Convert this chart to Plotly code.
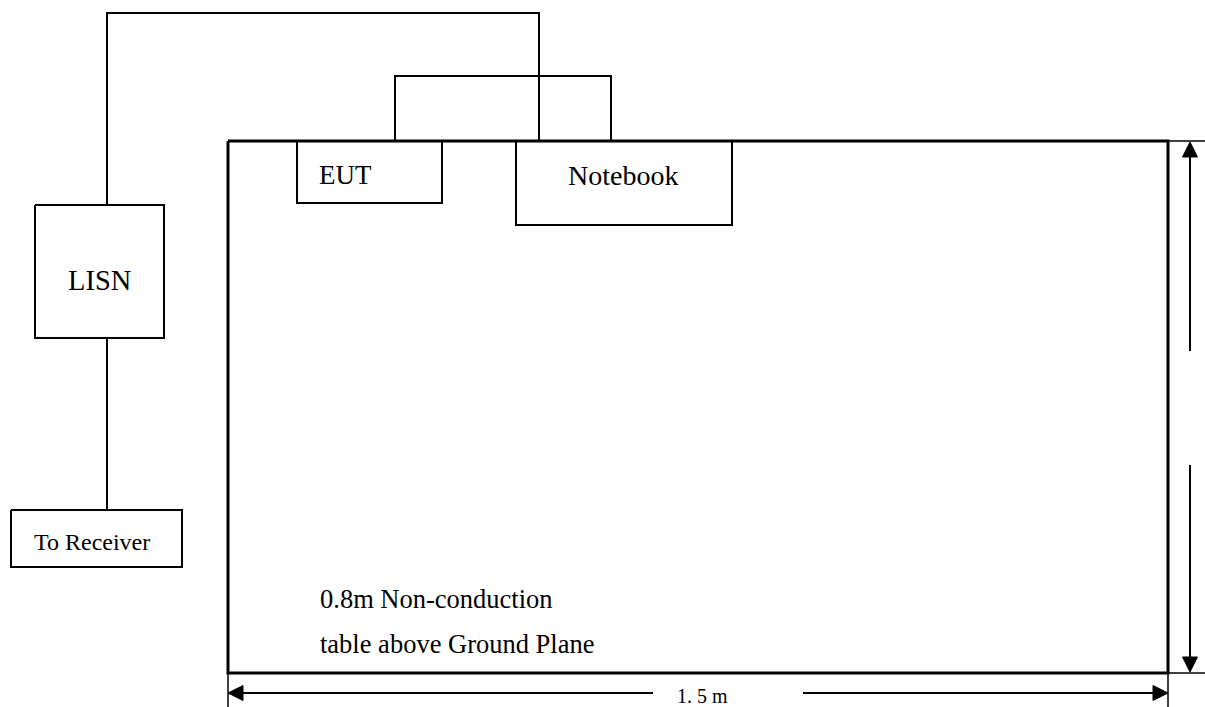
import plotly.graph_objects as go

# ---- diagram geometry (pixel units, y grows downward) ----
box_names = ["table", "EUT", "Notebook", "LISN", "Receiver"]
box_x0 = [228, 297, 516, 35, 11]
box_y0 = [141, 141, 141, 205, 510]
box_x1 = [1168, 442, 732, 164, 182]
box_y1 = [673, 203, 225, 338, 567]
box_lw = [3, 2, 2, 2, 2]

wire_paths = [
    ([107, 107, 539, 539], [205, 13, 13, 141]),   # LISN -> Notebook
    ([395, 395, 611, 611], [141, 76, 76, 141]),   # EUT -> Notebook
    ([107, 107], [338, 510]),                     # LISN -> Receiver
]

dim_lines = [
    ([1190, 1190], [156, 351]),
    ([1190, 1190], [465, 658]),
    ([243, 653], [693, 693]),
    ([803, 1153], [693, 693]),
]
ext_lines = [
    ([1168, 1205], [141, 141]),
    ([1168, 1205], [673, 673]),
    ([228, 228], [673, 707]),
    ([1168, 1168], [673, 707]),
]
# arrowheads: tip x, tip y, direction
arrow_tip_x = [1190, 1190, 228, 1168]
arrow_tip_y = [142, 672, 693, 693]
arrow_dir = ["up", "down", "left", "right"]

labels = ["EUT", "Notebook", "LISN", "To Receiver",
          "0.8m Non-conduction", "table above Ground Plane", "1. 5 m"]
label_x = [317, 623, 99, 32, 318, 318, 702]
label_y = [175, 175, 280, 542, 599, 644, 696]
label_anchor = ["left", "center", "center", "left", "left", "left", "center"]
label_size = [27, 28, 28.5, 24, 26.5, 26.5, 20]

W, H = 1205, 707
fig = go.Figure()

def line(xs, ys, w=2, color="black"):
    fig.add_trace(go.Scatter(x=xs, y=ys, mode="lines",
                             line=dict(color=color, width=w),
                             hoverinfo="skip", showlegend=False))

for x0, y0, x1, y1, lw in zip(box_x0, box_y0, box_x1, box_y1, box_lw):
    line([x0, x1, x1, x0, x0], [y0, y0, y1, y1, y0], w=lw)

for xs, ys in wire_paths:
    line(xs, ys, w=2)
for xs, ys in dim_lines:
    line(xs, ys, w=2)
for xs, ys in ext_lines:
    line(xs, ys, w=1.5)

L, HW = 15, 7.5
for tx, ty, d in zip(arrow_tip_x, arrow_tip_y, arrow_dir):
    if d == "up":
        xs, ys = [tx, tx - HW, tx + HW, tx], [ty, ty + L, ty + L, ty]
    elif d == "down":
        xs, ys = [tx, tx - HW, tx + HW, tx], [ty, ty - L, ty - L, ty]
    elif d == "left":
        xs, ys = [tx, tx + L, tx + L, tx], [ty, ty - HW, ty + HW, ty]
    else:
        xs, ys = [tx, tx - L, tx - L, tx], [ty, ty - HW, ty + HW, ty]
    fig.add_trace(go.Scatter(x=xs, y=ys, mode="lines", fill="toself",
                             fillcolor="black", line=dict(color="black", width=1),
                             hoverinfo="skip", showlegend=False))

for t, x, y, a, s in zip(labels, label_x, label_y, label_anchor, label_size):
    fig.add_annotation(x=x, y=y, text=t, showarrow=False, xanchor=a, yanchor="middle",
                       font=dict(family="Liberation Serif", size=s, color="black"))

fig.update_layout(width=W, height=H, margin=dict(l=0, r=0, t=0, b=0),
                  paper_bgcolor="white", plot_bgcolor="white")
fig.update_xaxes(range=[0, W], visible=False, fixedrange=True)
fig.update_yaxes(range=[H, 0], visible=False, fixedrange=True)
fig.write_html("out.html", config={"displayModeBar": False},
               post_script="document.body.style.margin='0';"
                           "document.body.style.padding='0';"
                           "document.body.style.overflow='hidden';")
